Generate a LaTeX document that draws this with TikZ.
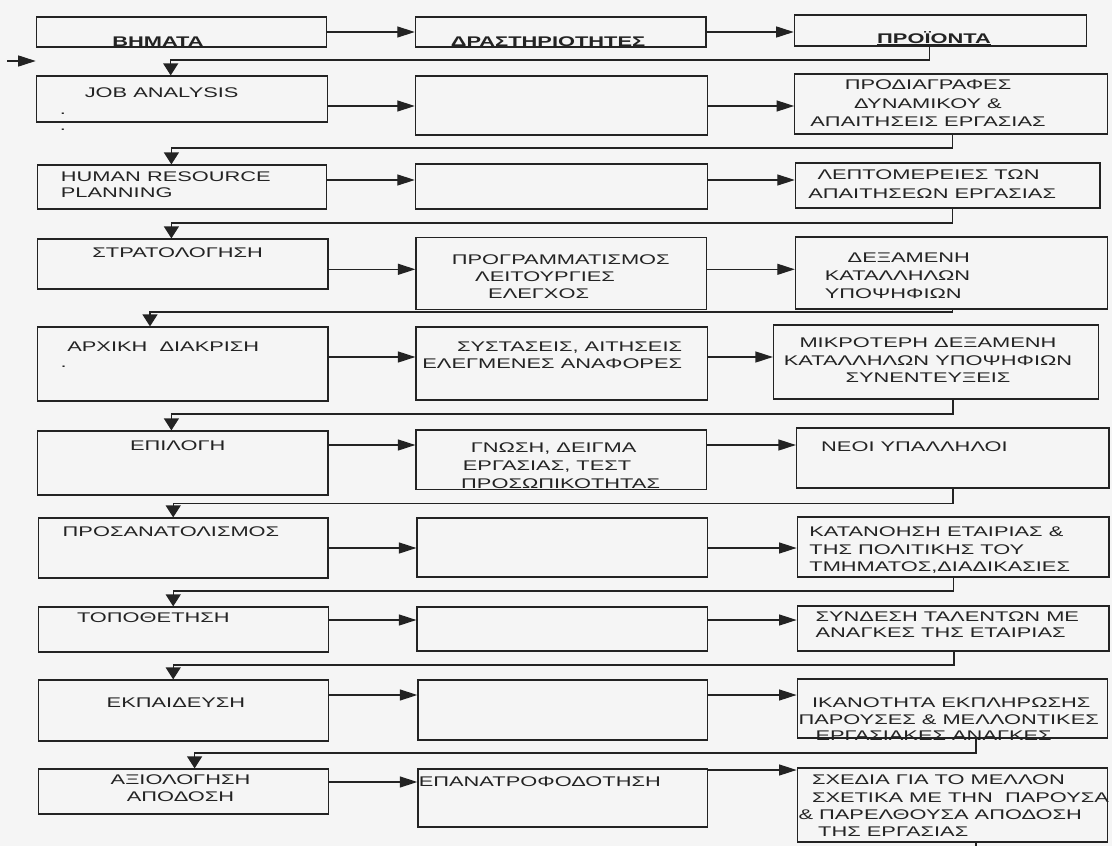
\documentclass[tikz,border=0pt]{standalone}
\usepackage{fontspec}
\setmainfont{Liberation Sans}[FakeStretch=1.56]
\usetikzlibrary{arrows.meta}
\definecolor{ink}{RGB}{35,35,35}
\definecolor{paper}{RGB}{245,245,245}
\tikzset{
  box/.style={draw=ink, line width=1.2pt, inner sep=0pt, rectangle},
  lbl/.style={inner sep=0pt, text=ink, font=\fontsize{14}{17.8}\selectfont},
  ls/.style={font=\fontsize{14}{#1}\selectfont},
  hdr/.style={inner sep=0pt, text=ink, font=\fontsize{14}{17}\selectfont\bfseries},
  harr/.style={draw=ink, line width=1.2pt, -{Triangle[length=17.5pt,width=11pt]}},
  varr/.style={draw=ink, line width=1.2pt, -{Triangle[length=12pt,width=15pt]}},
  conn/.style={draw=ink, line width=1.2pt},
}
\newcommand\bx[5]{\node[box, minimum width={#4-#2}, minimum height={#5-#3}] (#1) at ({(#2+#4)/2},{(#3+#5)/2}) {};}
\begin{document}
\begin{tikzpicture}[x=1pt,y=-1pt]
\fill[paper] (0,0) rectangle (1112,846);
\useasboundingbox (0,0) rectangle (1112,846);

% boxes
\bx{h1}{36.8}{17}{326.8}{47}
\bx{h2}{415.4}{17}{706}{47}
\bx{h3}{794.3}{15}{1086.1}{46}
\bx{r1a}{36.8}{76}{327.5}{122}
\bx{r1b}{415.4}{76}{707.8}{135}
\bx{r1c}{794.7}{74}{1107.3}{134}
\bx{r2a}{37.5}{165}{326.8}{209}
\bx{r2b}{415.4}{164}{707.8}{209}
\bx{r2c}{795.4}{163}{1100}{208}
\bx{r3a}{37.5}{239}{327.9}{289}
\bx{r3b}{416}{237.3}{706.7}{309.3}
\bx{r3c}{795.4}{237}{1107.3}{309}
\bx{r4a}{37.5}{327}{327.9}{401}
\bx{r4b}{416}{327}{707.8}{400}
\bx{r4c}{773.5}{325}{1098.2}{399}
\bx{r5a}{37.5}{431}{327.9}{495}
\bx{r5b}{416}{430}{706.7}{489.3}
\bx{r5c}{796.5}{428}{1109}{488}
\bx{r6a}{38.2}{518}{327.9}{578}
\bx{r6b}{417}{518}{707.8}{577}
\bx{r6c}{797.2}{517}{1109}{577}
\bx{r7a}{38.2}{607}{328.6}{652}
\bx{r7b}{417}{607}{707.8}{651}
\bx{r7c}{797.2}{606}{1109}{651}
\bx{r8a}{38.2}{680}{328.6}{741}
\bx{r8b}{417.9}{680}{707.8}{740}
\bx{r8c}{797.2}{679}{1107.3}{738}
\bx{r9a}{38.2}{769}{328.6}{814}
\bx{r9b}{417.9}{769}{707.8}{827}
\bx{r9c}{797.2}{768}{1107.3}{842}

% texts
\node[hdr, anchor=base] (t0a) at (158,46) {\underline{ΒΗΜΑΤΑ}};
\node[hdr, anchor=base] (t0b) at (548,46) {\underline{ΔΡΑΣΤΗΡΙΟΤΗΤΕΣ}};
\node[hdr, anchor=base] (t0c) at (934,43) {\underline{ΠΡΟΪΟΝΤΑ}};

\node[lbl, anchor=west] (t1a) at (84.6,93) {JOB ANALYSIS};
\node[lbl] (d1) at (62.9,114) {.};
\node[lbl] (d2) at (62.9,130) {.};
\node[lbl, ls=18.5, anchor=north, align=center] (t1c) at (928,80) {ΠΡΟΔΙΑΓΡΑΦΕΣ\\ΔΥΝΑΜΙΚΟΥ \&\\ΑΠΑΙΤΗΣΕΙΣ ΕΡΓΑΣΙΑΣ};

\node[lbl, ls=16, anchor=north west, align=left] (t2a) at (60.7,172) {HUMAN RESOURCE\\PLANNING};
\node[lbl, ls=19, anchor=north west, align=left] (t2c) at (808.1,170) {\hspace*{9.2pt}ΛΕΠΤΟΜΕΡΕΙΕΣ ΤΩΝ\\ΑΠΑΙΤΗΣΕΩΝ ΕΡΓΑΣΙΑΣ};

\node[lbl] (t3a) at (177.7,253) {ΣΤΡΑΤΟΛΟΓΗΣΗ};
\node[lbl, ls=17, anchor=north west, align=left] (t3b) at (451.7,255) {ΠΡΟΓΡΑΜΜΑΤΙΣΜΟΣ\\\hspace*{23.3pt}ΛΕΙΤΟΥΡΓΙΕΣ\\\hspace*{36.3pt}ΕΛΕΓΧΟΣ};
\node[lbl, ls=18, anchor=north west, align=left] (t3c) at (824.6,253) {\hspace*{22.9pt}ΔΕΞΑΜΕΝΗ\\ΚΑΤΑΛΛΗΛΩΝ\\ΥΠΟΨΗΦΙΩΝ};

\node[lbl, anchor=west] (t4a) at (67.1,347) {ΑΡΧΙΚΗ\ \ ΔΙΑΚΡΙΣΗ};
\node[lbl] (d3) at (63.6,367) {.};
\node[lbl, ls=16.5, anchor=north east, align=right] (t4b) at (682.3,342) {ΣΥΣΤΑΣΕΙΣ, ΑΙΤΗΣΕΙΣ\\ΕΛΕΓΜΕΝΕΣ ΑΝΑΦΟΡΕΣ};
\node[lbl, ls=17.5, anchor=north, align=center] (t4c) at (928,338) {ΜΙΚΡΟΤΕΡΗ ΔΕΞΑΜΕΝΗ\\ΚΑΤΑΛΛΗΛΩΝ ΥΠΟΨΗΦΙΩΝ\\ΣΥΝΕΝΤΕΥΞΕΙΣ};

\node[lbl] (t5a) at (177.7,446) {ΕΠΙΛΟΓΗ};
\node[lbl, ls=17.8, anchor=north west, align=left] (t5b) at (461,442.7) {\hspace*{9.7pt}ΓΝΩΣΗ, ΔΕΙΓΜΑ\\\hspace*{1.7pt}ΕΡΓΑΣΙΑΣ, ΤΕΣΤ\\ΠΡΟΣΩΠΙΚΟΤΗΤΑΣ};
\node[lbl, anchor=west] (t5c) at (821,447) {ΝΕΟΙ ΥΠΑΛΛΗΛΟΙ};

\node[lbl, anchor=west] (t6a) at (62.5,532) {ΠΡΟΣΑΝΑΤΟΛΙΣΜΟΣ};
\node[lbl, ls=17.5, anchor=north west, align=left] (t6c) at (809.2,527) {ΚΑΤΑΝΟΗΣΗ ΕΤΑΙΡΙΑΣ \&\\ΤΗΣ ΠΟΛΙΤΙΚΗΣ ΤΟΥ\\ΤΜΗΜΑΤΟΣ,ΔΙΑΔΙΚΑΣΙΕΣ};

\node[lbl, anchor=west] (t7a) at (76.8,618) {ΤΟΠΟΘΕΤΗΣΗ};
\node[lbl, ls=16, anchor=north west, align=left] (t7c) at (815.4,612) {ΣΥΝΔΕΣΗ ΤΑΛΕΝΤΩΝ ΜΕ\\ΑΝΑΓΚΕΣ ΤΗΣ ΕΤΑΙΡΙΑΣ};

\node[lbl] (t8a) at (176,703) {ΕΚΠΑΙΔΕΥΣΗ};
\node[lbl, ls=16.2, anchor=north west, align=left] (t8c) at (798.3,698) {\hspace*{13.5pt}ΙΚΑΝΟΤΗΤΑ ΕΚΠΛΗΡΩΣΗΣ\\ΠΑΡΟΥΣΕΣ \& ΜΕΛΛΟΝΤΙΚΕΣ\\\hspace*{17.1pt}ΕΡΓΑΣΙΑΚΕΣ ΑΝΑΓΚΕΣ};

\node[lbl, ls=17, anchor=north, align=center] (t9a) at (180.5,775) {ΑΞΙΟΛΟΓΗΣΗ\\ΑΠΟΔΟΣΗ};
\node[lbl, anchor=west] (t9b) at (418.6,782) {ΕΠΑΝΑΤΡΟΦΟΔΟΤΗΣΗ};
\node[lbl, ls=17.3, anchor=north west, align=left] (t9c) at (798.3,775) {\hspace*{13.5pt}ΣΧΕΔΙΑ ΓΙΑ ΤΟ ΜΕΛΛΟΝ\\\hspace*{13.5pt}ΣΧΕΤΙΚΑ ΜΕ ΤΗΝ\ \ ΠΑΡΟΥΣΑ\\\& ΠΑΡΕΛΘΟΥΣΑ ΑΠΟΔΟΣΗ\\\hspace*{19.7pt}ΤΗΣ ΕΡΓΑΣΙΑΣ};

% arrow levels
\coordinate (a0) at (0,32);
\coordinate (a1) at (0,106);
\coordinate (a2) at (0,180);
\coordinate (a3) at (0,269.3);
\coordinate (a4) at (0,357);
\coordinate (a5) at (0,445);
\coordinate (a6) at (0,548);
\coordinate (a7) at (0,620);
\coordinate (a8) at (0,695);
\coordinate (a9) at (0,782);
\coordinate (b9) at (0,770);

% horizontal arrows
\draw[harr] (h1.east |- a0) -- (h2.west |- a0);
\draw[harr] (h2.east |- a0) -- (h3.west |- a0);
\foreach \i in {1,...,8}{
  \draw[harr] (r\i a.east |- a\i) -- (r\i b.west |- a\i);
  \draw[harr] (r\i b.east |- a\i) -- (r\i c.west |- a\i);
}
\draw[harr] (r9a.east |- a9) -- (r9b.west |- a9);
\draw[harr] (r9b.east |- b9) -- (r9c.west |- b9);

% entry arrow
\coordinate (e0) at (7,61);
\coordinate (e1) at (35.7,61);
\draw[harr] (e0) -- (e1);

% feedback connectors
\coordinate (g0) at (929.6,60);   \coordinate (f0) at (170.7,60);
\coordinate (g1) at (952.3,148);  \coordinate (f1) at (171.4,148);
\coordinate (g2) at (952.3,223);  \coordinate (f2) at (171.4,223);
\coordinate (g3) at (952.3,312);  \coordinate (f3) at (150,312);
\coordinate (g4) at (953,414);    \coordinate (f4) at (171.4,414);
\coordinate (g5) at (953,503.3);  \coordinate (f5) at (173.2,503.3);
\coordinate (g6) at (953.4,591);  \coordinate (f6) at (173.2,591);
\coordinate (g7) at (954,665);    \coordinate (f7) at (173.2,665);
\coordinate (g8) at (976,753);    \coordinate (f8) at (194.6,753);
\coordinate (g9) at (976,846);

\draw[varr] (h3.south -| g0) -- (g0) -- (f0) -- (r1a.north -| f0);
\draw[varr] (r1c.south -| g1) -- (g1) -- (f1) -- (r2a.north -| f1);
\draw[varr] (r2c.south -| g2) -- (g2) -- (f2) -- (r3a.north -| f2);
\draw[varr] (r3c.south -| g3) -- (g3) -- (f3) -- (r4a.north -| f3);
\draw[varr] (r4c.south -| g4) -- (g4) -- (f4) -- (r5a.north -| f4);
\draw[varr] (r5c.south -| g5) -- (g5) -- (f5) -- (r6a.north -| f5);
\draw[varr] (r6c.south -| g6) -- (g6) -- (f6) -- (r7a.north -| f6);
\draw[varr] (r7c.south -| g7) -- (g7) -- (f7) -- (r8a.north -| f7);
\draw[varr] (r8c.south -| g8) -- (g8) -- (f8) -- (r9a.north -| f8);
\draw[conn] (r9c.south -| g9) -- (g9);
\end{tikzpicture}
\end{document}
